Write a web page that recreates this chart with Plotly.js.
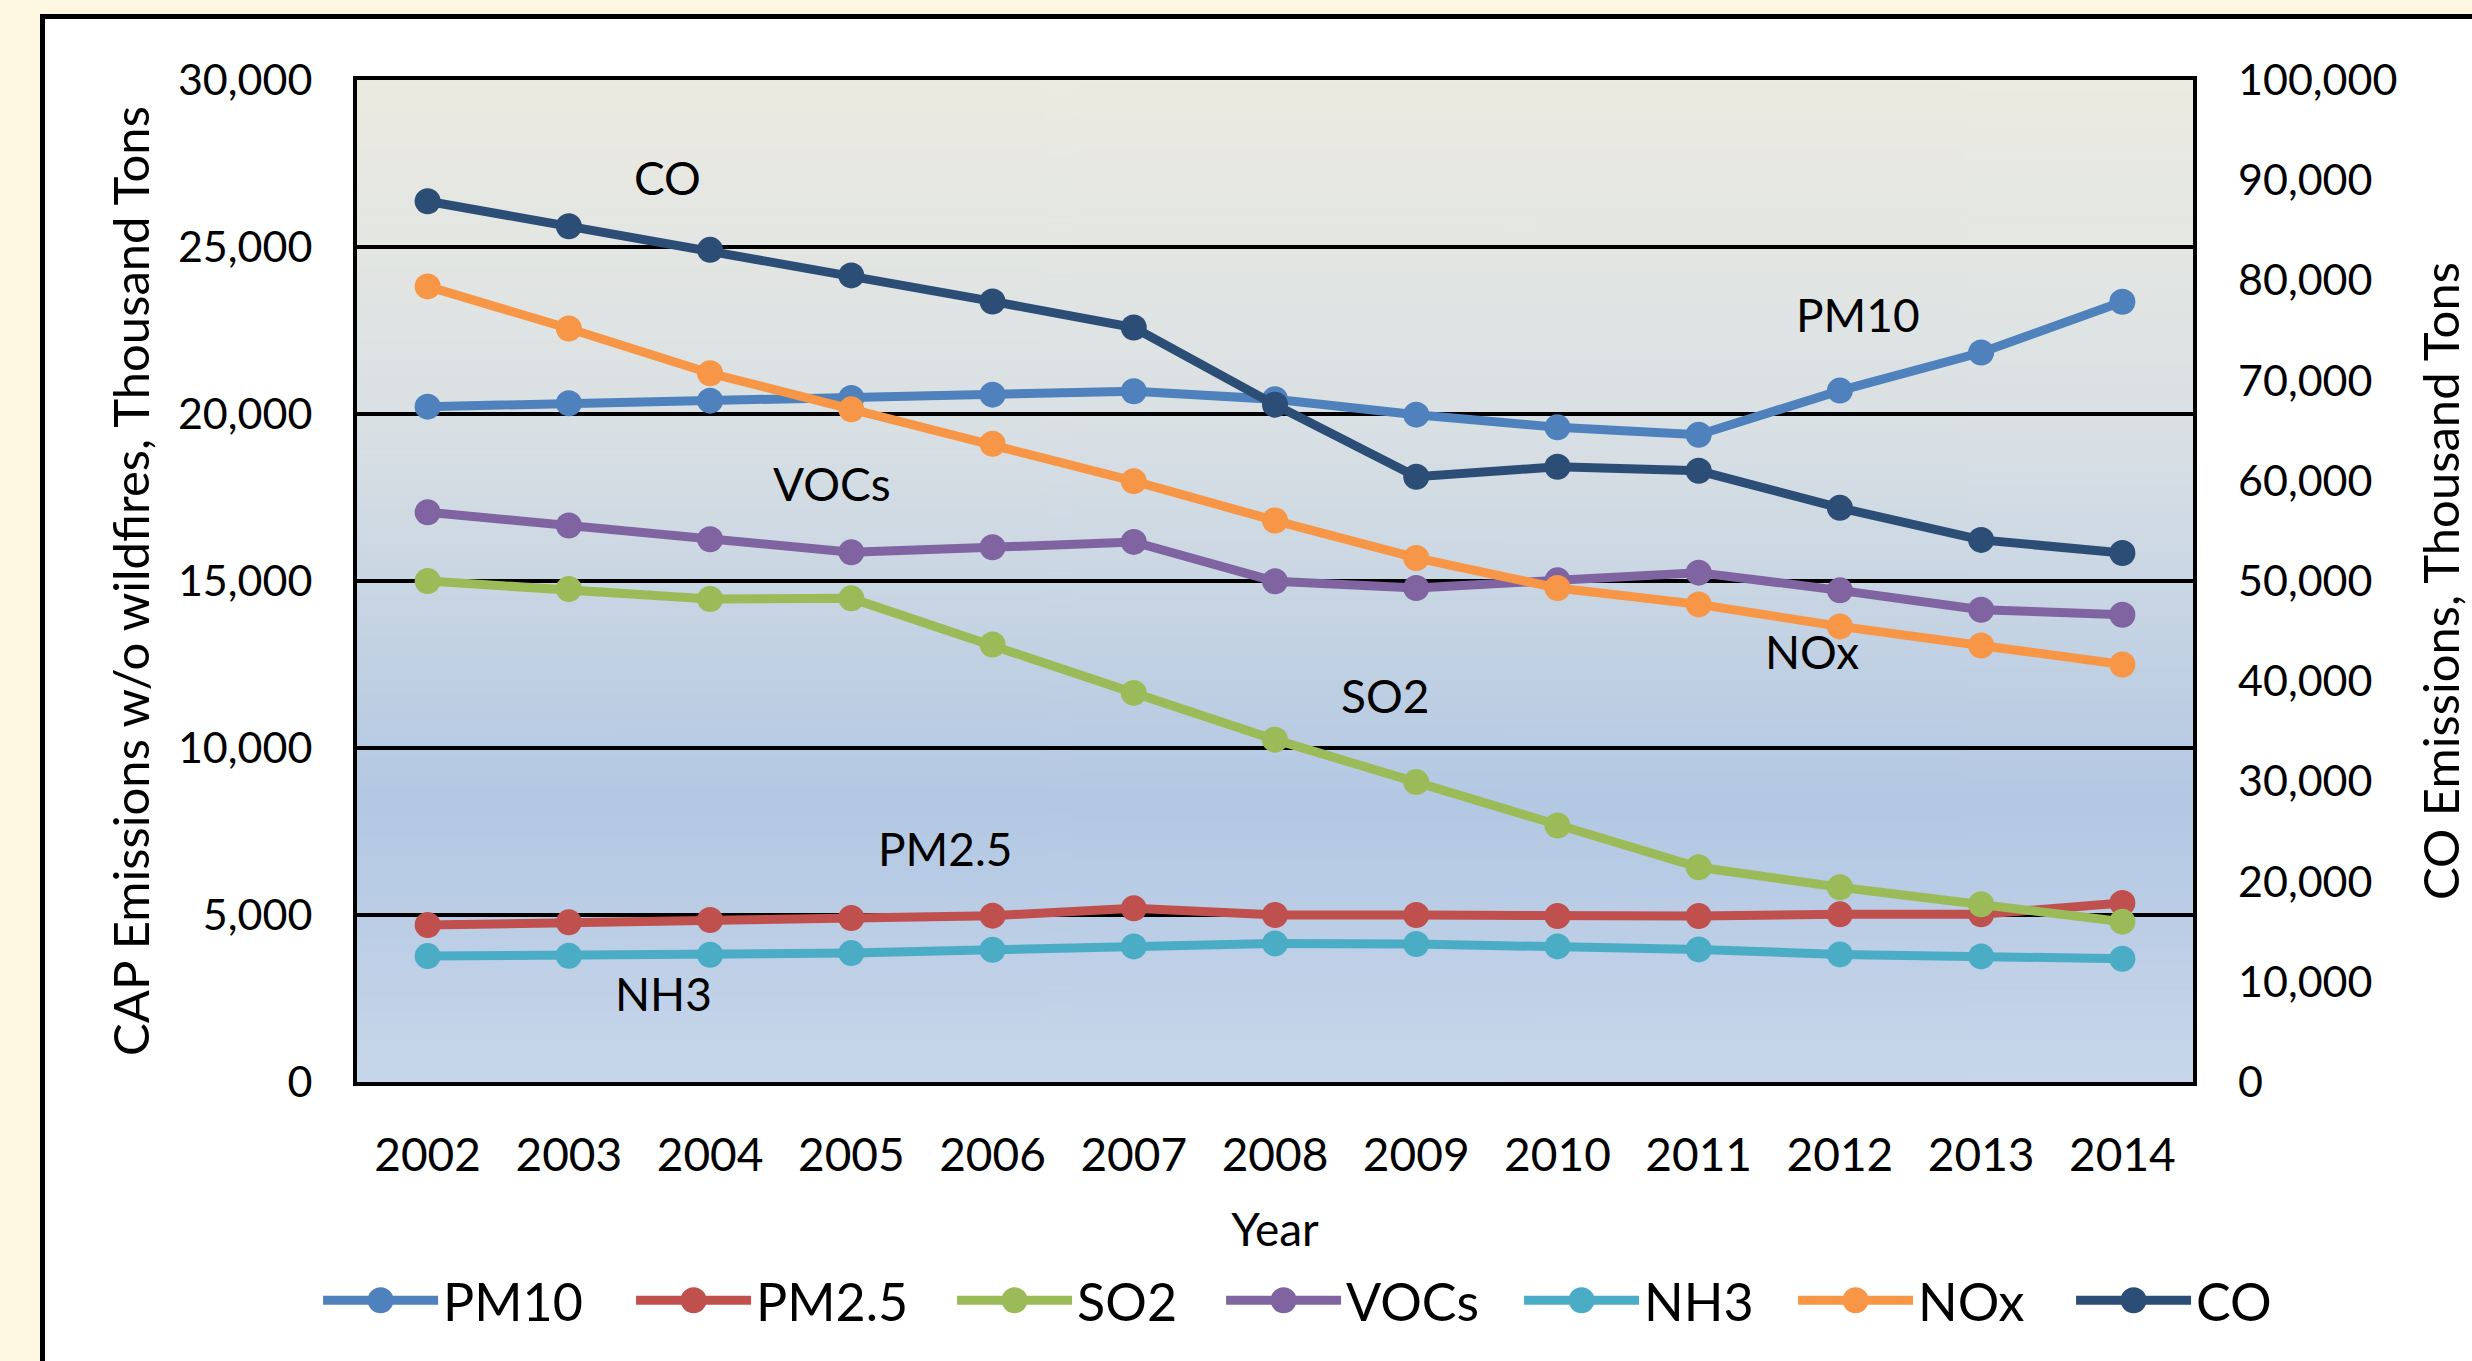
<!DOCTYPE html>
<html>
<head>
<meta charset="utf-8">
<script src="https://cdn.plot.ly/plotly-3.0.1.min.js"></script>
<style>
  html, body { margin: 0; padding: 0; background: #fef7e1; width: 2472px; height: 1361px; overflow: hidden; }
  #panel { position: absolute; left: 40px; top: 14px; width: 2500px; height: 1400px; background: #ffffff; border-left: 5px solid #000; border-top: 5px solid #000; }
  #chart { position: absolute; left: 0; top: 0; width: 2472px; height: 1361px; }
</style>
</head>
<body>
<div id="panel"></div>
<div id="chart"></div>
<script>
// ---- Data (Thousand Tons) ----
const years = [2002, 2003, 2004, 2005, 2006, 2007, 2008, 2009, 2010, 2011, 2012, 2013, 2014];
const pm10  = [20220, 20320, 20400, 20480, 20580, 20680, 20440, 19980, 19600, 19380, 20700, 21840, 23360];
const pm25  = [4700, 4780, 4850, 4910, 4980, 5200, 5000, 5000, 4970, 4970, 5020, 5020, 5360];
const so2   = [15000, 14760, 14460, 14480, 13100, 11650, 10250, 8980, 7680, 6430, 5830, 5320, 4800];
const vocs  = [17060, 16660, 16250, 15860, 16010, 16170, 14990, 14790, 15020, 15250, 14720, 14140, 13990];
const nh3   = [3770, 3780, 3810, 3860, 3960, 4060, 4150, 4130, 4060, 3970, 3820, 3760, 3690];
const nox   = [23820, 22560, 21220, 20140, 19110, 17990, 16810, 15690, 14790, 14300, 13640, 13070, 12500];
const co    = [87900, 85400, 83050, 80500, 77900, 75300, 67600, 60400, 61400, 61000, 57300, 54100, 52800];

const seriesNames  = ["PM10", "PM2.5", "SO2", "VOCs", "NH3", "NOx", "CO"];
const seriesColors = ["#4f81bd", "#c0504d", "#9bbb59", "#8064a2", "#4bacc6", "#f79646", "#2c4d75"];
// legend entry text widths (styling only)
const legendWidths = [183, 191, 139, 168, 144, 148, 125];

// in-plot labels: [text, year position, left-axis value position]
const labelText = ["CO", "VOCs", "PM10", "SO2", "NOx", "PM2.5", "NH3"];
const labelX    = [2003.70, 2004.86, 2012.13, 2008.78, 2011.80, 2005.67, 2003.67];
const labelY    = [27080, 17920, 22970, 11560, 12880, 6980, 2640];

const leftTicks  = [0, 5000, 10000, 15000, 20000, 25000, 30000];
const rightTicks = [0, 10000, 20000, 30000, 40000, 50000, 60000, 70000, 80000, 90000, 100000];

// ---- Plot-area gradient background (generated locally) ----
function gradientURL() {
  const c = document.createElement('canvas');
  c.width = 4; c.height = 600;
  const g = c.getContext('2d');
  const lg = g.createLinearGradient(0, 0, 0, 600);
  lg.addColorStop(0.00, '#ecebe1');
  lg.addColorStop(0.35, '#d9e0e4');
  lg.addColorStop(0.72, '#b3c8e3');
  lg.addColorStop(1.00, '#c7d6ea');
  g.fillStyle = lg;
  g.fillRect(0, 0, 4, 600);
  return c.toDataURL('image/png');
}

const FONT = "Lato, 'Open Sans', sans-serif";
const allY = [pm10, pm25, so2, vocs, nh3, nox, co];

const traces = allY.map((vals, i) => ({
  type: 'scatter',
  mode: 'lines+markers',
  name: seriesNames[i],
  x: years,
  y: vals,
  yaxis: seriesNames[i] === 'CO' ? 'y2' : 'y',
  line: { color: seriesColors[i], width: 9 },
  marker: { color: seriesColors[i], size: 26, symbol: 'circle' },
  legendwidth: legendWidths[i],
  cliponaxis: false
}));

const annotations = labelText.map((t, i) => ({
  text: t, x: labelX[i], y: labelY[i], xref: 'x', yref: 'y',
  showarrow: false, font: { family: FONT, size: 46, color: '#000' }
}));

const layout = {
  width: 2472, height: 1361,
  margin: { l: 357, r: 275, t: 80, b: 279, pad: 0 },
  paper_bgcolor: 'rgba(0,0,0,0)',
  plot_bgcolor: 'rgba(0,0,0,0)',
  font: { family: FONT, size: 43, color: '#000' },
  showlegend: true,
  legend: {
    orientation: 'h', x: -0.0212, xanchor: 'left', y: -0.218, yanchor: 'middle',
    font: { family: FONT, size: 52, color: '#000' },
    itemwidth: 115, tracegroupgap: 0, bgcolor: 'rgba(0,0,0,0)'
  },
  xaxis: {
    range: [2001.5, 2014.5], tickmode: 'array', tickvals: years, ticktext: years.map(String),
    showgrid: false, zeroline: false,
    showline: true, mirror: true, linecolor: '#000', linewidth: 4,
    ticks: '', ticklabelstandoff: 30,
    tickfont: { family: FONT, size: 46 },
    title: { text: 'Year', font: { family: FONT, size: 46 }, standoff: 35 },
    automargin: false
  },
  yaxis: {
    range: [0, 30000], tickmode: 'array', tickvals: leftTicks, tickformat: ',d',
    showgrid: true, gridcolor: '#000', gridwidth: 3.5, zeroline: false,
    showline: true, mirror: true, linecolor: '#000', linewidth: 4,
    ticks: '', ticklabelstandoff: 32,
    tickfont: { family: FONT, size: 43 },
    title: { text: 'CAP Emissions w/o wildfires, Thousand Tons', font: { family: FONT, size: 49 }, standoff: 14 },
    automargin: true
  },
  yaxis2: {
    overlaying: 'y', side: 'right', range: [0, 100000], tickmode: 'array', tickvals: rightTicks, tickformat: ',d',
    showgrid: false, zeroline: false, showline: false,
    ticks: '', ticklabelstandoff: 44,
    tickfont: { family: FONT, size: 43 },
    title: { text: 'CO Emissions, Thousand Tons', font: { family: FONT, size: 49 }, standoff: 28 },
    automargin: true
  },
  annotations: annotations,
  images: [{
    source: gradientURL(), xref: 'paper', yref: 'paper', x: 0, y: 1, sizex: 1, sizey: 1,
    sizing: 'stretch', xanchor: 'left', yanchor: 'top', layer: 'below'
  }]
};

Plotly.newPlot('chart', traces, layout, { displayModeBar: false, staticPlot: true }).then(gd => {
  // Thicker legend lines and bigger legend markers, like the source chart
  gd.querySelectorAll('.legend .legendlines path').forEach(p => { p.style.strokeWidth = '9px'; });
  const r = 13;
  const circ = `M${r},0A${r},${r} 0 1,1 0,-${r}A${r},${r} 0 0,1 ${r},0Z`;
  gd.querySelectorAll('.legend .legendpoints path.scatterpts').forEach(p => { p.setAttribute('d', circ); });
});
</script>
</body>
</html>
